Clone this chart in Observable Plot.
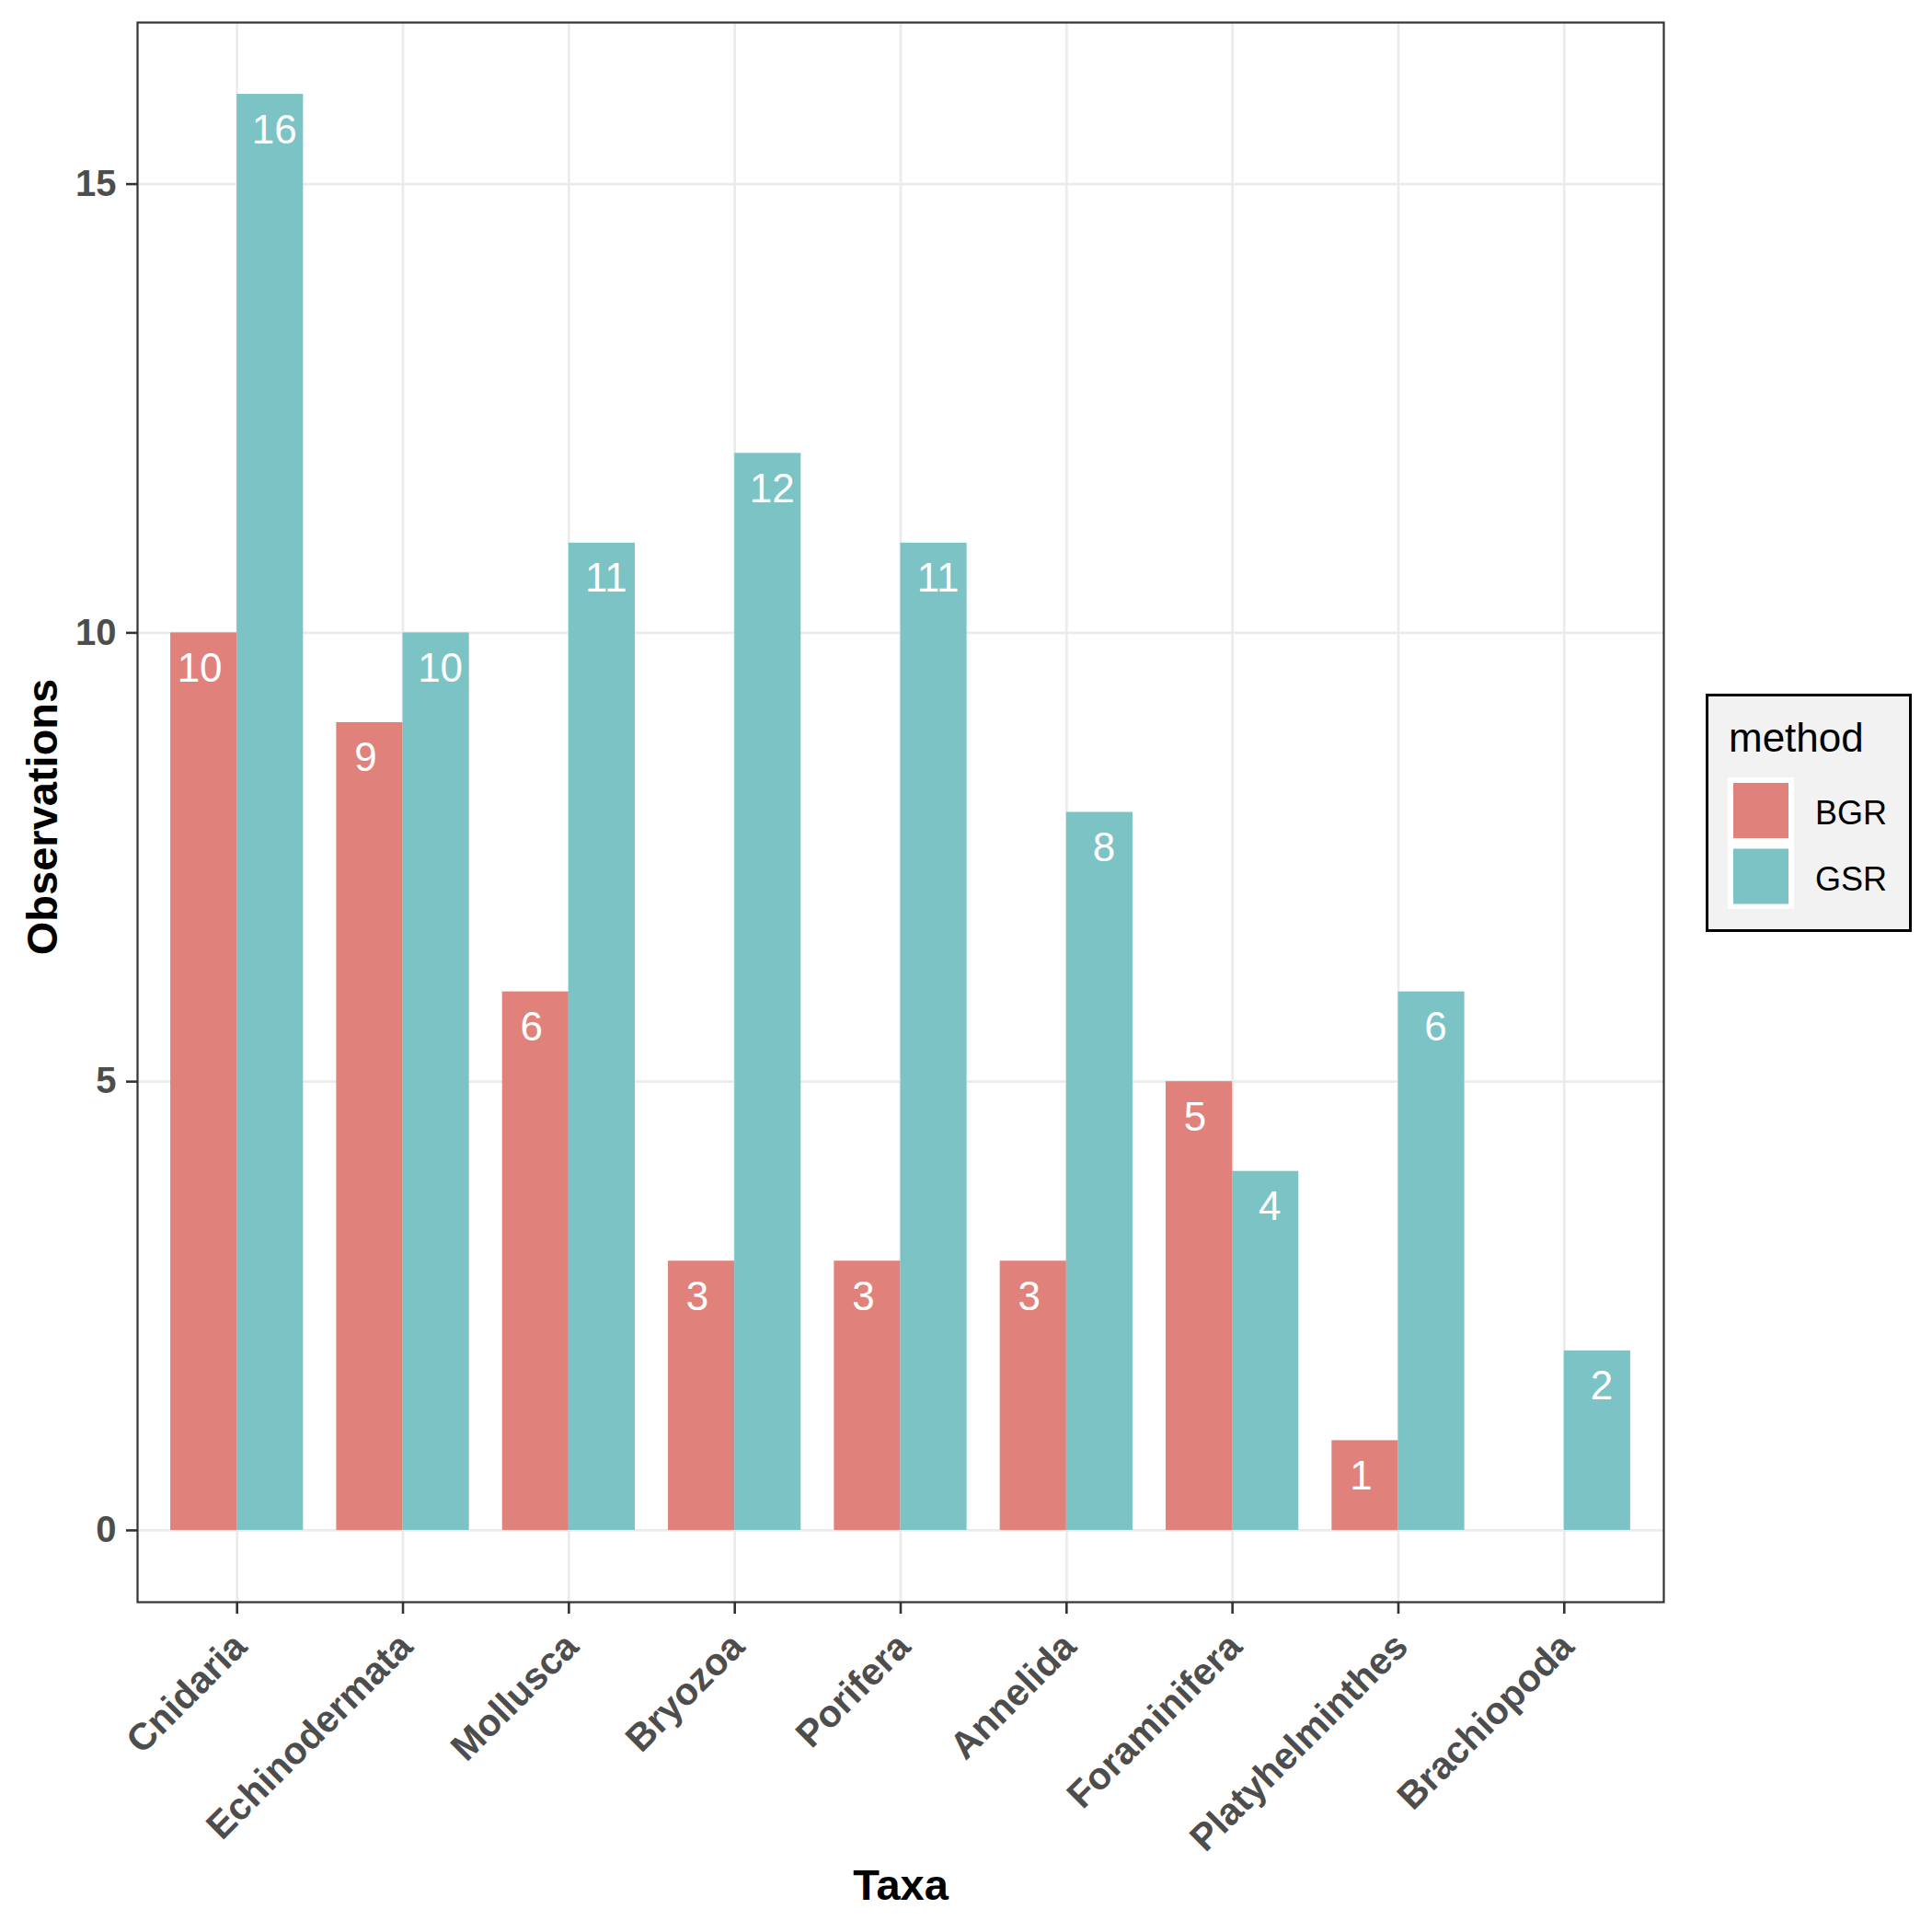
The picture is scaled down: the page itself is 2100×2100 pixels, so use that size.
<!DOCTYPE html>
<html>
<head>
<meta charset="utf-8">
<script src="https://cdn.jsdelivr.net/npm/d3@7"></script>
<script src="https://cdn.jsdelivr.net/npm/@observablehq/plot@0.6"></script>
<style>
  html, body { margin: 0; padding: 0; background: white; }
  #wrap { position: relative; width: 2100px; height: 2100px; }
  #wrap g[aria-label^="y-axis"] text { fill: #4D4D4D; }
  #wrap g[aria-label^="y-axis"] line, #wrap g[aria-label^="y-axis"] path { stroke: #333333; stroke-width: 2.6px; }
</style>
</head>
<body>
<div id="wrap"></div>
<script>
const taxa = ["Cnidaria", "Echinodermata", "Mollusca", "Bryozoa", "Porifera", "Annelida", "Foraminifera", "Platyhelminthes", "Brachiopoda"];
const bgrValues = [10, 9, 6, 3, 3, 3, 5, 1, null];
const gsrValues = [16, 10, 11, 12, 11, 8, 4, 6, 2];
const methods = ["BGR", "GSR"];
const methodColors = ["#E0827B", "#7CC3C5"];
const yTicks = [0, 5, 10, 15];

const rows = taxa.flatMap((t, i) => [
  {taxon: t, method: "BGR", value: bgrValues[i]},
  {taxon: t, method: "GSR", value: gsrValues[i]}
]).filter(d => d.value != null);

const W = 2100, H = 2100;
const mL = 149, mR = 292, mT = 24, mB = 359;
const step = (W - mL - mR) / (taxa.length + 0.2);
const halfBar = 0.8 * step / 2;
const labelShift = 0.225 * step;

const font = "'Liberation Sans', Arimo, Arial, Helvetica, sans-serif";

const chart = Plot.plot({
  width: W,
  height: H,
  marginLeft: mL,
  marginRight: mR,
  marginTop: mT,
  marginBottom: mB,
  style: {fontFamily: font, fontSize: "40px", fontWeight: "bold", color: "#333333", background: "white", overflow: "visible"},
  x: {domain: taxa, padding: 0.2, round: false, axis: null},
  y: {domain: [-0.8, 16.8], ticks: yTicks, tickSize: 12, tickPadding: 11, label: null},
  color: {domain: methods, range: methodColors},
  marks: [
    Plot.ruleY(yTicks, {stroke: "#EBEBEB", strokeWidth: 2.7}),
    Plot.ruleX(taxa, {x: d => d, stroke: "#EBEBEB", strokeWidth: 2.7}),
    Plot.barY(rows.filter(d => d.method === "BGR"), {x: "taxon", y: "value", fill: "method", insetRight: halfBar}),
    Plot.barY(rows.filter(d => d.method === "GSR"), {x: "taxon", y: "value", fill: "method", insetLeft: halfBar}),
    Plot.text(rows.filter(d => d.method === "BGR"), {x: "taxon", y: "value", text: d => String(d.value), dx: -labelShift, dy: 53, lineAnchor: "bottom", fill: "white", fontSize: 44, fontWeight: "normal"}),
    Plot.text(rows.filter(d => d.method === "GSR"), {x: "taxon", y: "value", text: d => String(d.value), dx: labelShift, dy: 53, lineAnchor: "bottom", fill: "white", fontSize: 44, fontWeight: "normal"}),
    Plot.frame({stroke: "#333333", strokeWidth: 2.2}),
    Plot.ruleX(taxa, {x: d => d, y1: -0.8, y2: -0.8 - 13 / ((H - mT - mB) / 17.6), stroke: "#333333", strokeWidth: 2.6, clip: false}),
    Plot.text(taxa, {x: d => d, frameAnchor: "bottom", rotate: -45, textAnchor: "end", lineAnchor: "top", dx: -8, dy: 30, fill: "#4D4D4D", fontSize: 41, fontWeight: "bold"}),
    Plot.text(["Taxa"], {frameAnchor: "bottom", lineAnchor: "bottom", textAnchor: "middle", dy: 323, fill: "black", fontSize: 47, fontWeight: "bold"}),
    Plot.text(["Observations"], {frameAnchor: "left", rotate: -90, textAnchor: "middle", lineAnchor: "bottom", dx: -88, dy: 5, fill: "black", fontSize: 47, fontWeight: "bold"})
  ]
});

const wrap = document.getElementById("wrap");
wrap.appendChild(chart);

// Legend (outside the plot SVG)
const leg = d3.select(wrap).append("svg")
  .attr("id", "legend")
  .attr("width", W).attr("height", H)
  .style("position", "absolute").style("left", "0px").style("top", "0px")
  .style("pointer-events", "none")
  .style("font-family", font);
leg.append("rect").attr("x", 1855.5).attr("y", 755.5).attr("width", 221).attr("height", 256)
  .attr("fill", "#F2F2F2").attr("stroke", "black").attr("stroke-width", 3);
leg.append("text").attr("x", 1879).attr("y", 817).attr("font-size", 44).attr("fill", "black").text("method");
methods.forEach((m, i) => {
  const y0 = 845 + i * 71.5;
  leg.append("rect").attr("x", 1878).attr("y", y0).attr("width", 72).attr("height", 71.5).attr("fill", "white");
  leg.append("rect").attr("x", 1884).attr("y", y0 + 6).attr("width", 60).attr("height", 60).attr("fill", methodColors[i]);
  leg.append("text").attr("x", 1973).attr("y", y0 + 51).attr("font-size", 36).attr("fill", "black").text(m);
});
</script>
</body>
</html>
